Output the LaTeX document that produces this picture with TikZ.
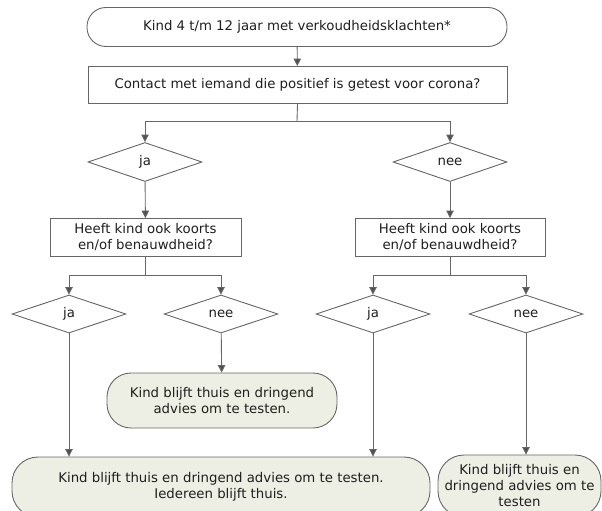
\documentclass[tikz,border=0pt]{standalone}
\usepackage{fontspec}
\setmainfont{DejaVu Sans}
\usepackage{xcolor}
\definecolor{lijn}{HTML}{666666}
\definecolor{tekst}{HTML}{1F1F1F}
\definecolor{advies}{HTML}{EDEFE4}
\usetikzlibrary{arrows.meta, shapes.geometric}

\begin{document}
\begin{tikzpicture}[x=1pt, y=-1pt,
  every node/.style={font=\fontsize{13.3}{16}\selectfont, text=tekst},
  lijnen/.style={draw=lijn, line width=0.9pt},
  pijl/.style={lijnen, -{Triangle[length=7.5pt, width=7.5pt, fill=lijn!80!black]}},
  startbox/.style={lijnen, fill=white, rounded corners=19pt, minimum width=420pt, minimum height=39pt},
  vraag/.style={lijnen, fill=white, align=center, minimum height=38pt},
  keuze/.style={lijnen, fill=white, diamond, aspect=3, inner sep=0pt, minimum width=114pt, minimum height=39pt},
  uitkomst/.style={lijnen, fill=advies, rounded corners=24pt, align=center}]
  \useasboundingbox (0,0) rectangle (602,511);
  % Start en eerste vraag
  \node[startbox] (start) at (297,27) {Kind 4 t/m 12 jaar met verkoudheidsklachten*};
  \node[vraag, minimum width=419pt, minimum height=37pt] (contact) at (297.5,85) {Contact met iemand die positief is getest voor corona?};
  % Eerste keuze
  \node[keuze] (ja1) at (145,162) {ja};
  \node[keuze] (nee1) at (450,162) {nee};
  \node[vraag, minimum width=191pt] (koorts1) at (145.5,237.5) {Heeft kind ook koorts\\en/of benauwdheid?};
  \node[vraag, minimum width=190pt] (koorts2) at (450,237.5) {Heeft kind ook koorts\\en/of benauwdheid?};
  % Tweede keuze
  \node[keuze, minimum height=38pt] (ja2) at (69,314) {ja};
  \node[keuze, minimum height=38pt] (nee2) at (221,314) {nee};
  \node[keuze, minimum height=38pt] (ja3) at (373,314) {ja};
  \node[keuze, minimum height=38pt] (nee3) at (526,314) {nee};
  % Uitkomsten
  \node[uitkomst, minimum width=230pt, minimum height=55pt] (thuis) at (222,400.5) {Kind blijft thuis en dringend\\advies om te testen.};
  \node[uitkomst, minimum width=418pt, minimum height=60pt, rounded corners=26pt] (iedereen) at (221,487) {Kind blijft thuis en dringend advies om te testen.\\Iedereen blijft thuis.};
  \node[uitkomst, minimum width=163pt, minimum height=62pt, rounded corners=26pt, inner sep=1pt] (testen) at (519.5,486) {Kind blijft thuis en\\dringend advies om te\\testen};
  % Verbindingen
  \coordinate (split1) at (297,121);
  \coordinate (split2) at (145.5,275);
  \coordinate (split3) at (450,275);
  \draw[pijl] (start) -- (contact);
  \draw[lijnen] (contact.south) -- (split1);
  \draw[pijl] (split1) -| (ja1.north);
  \draw[pijl] (split1) -| (nee1.north);
  \draw[pijl] (ja1) -- (koorts1);
  \draw[pijl] (nee1) -- (koorts2);
  \draw[lijnen] (koorts1.south) -- (split2);
  \draw[pijl] (split2) -| (ja2.north);
  \draw[pijl] (split2) -| (nee2.north);
  \draw[lijnen] (koorts2.south) -- (split3);
  \draw[pijl] (split3) -| (ja3.north);
  \draw[pijl] (split3) -| (nee3.north);
  \draw[pijl] (nee2) -- (thuis);
  \draw[pijl] (ja2.south) -- (ja2.south |- iedereen.north);
  \draw[pijl] (ja3.south) -- (ja3.south |- iedereen.north);
  \draw[pijl] (nee3.south) -- (nee3.south |- testen.north);
\end{tikzpicture}
\end{document}
